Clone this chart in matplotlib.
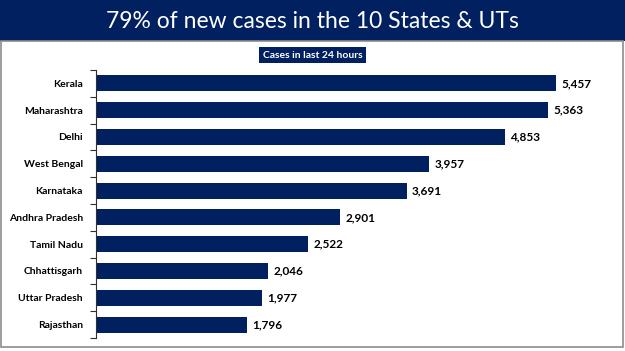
import matplotlib
matplotlib.use("Agg")
import matplotlib.pyplot as plt
from matplotlib.patches import Rectangle

# data
states = ["Kerala", "Maharashtra", "Delhi", "West Bengal", "Karnataka",
          "Andhra Pradesh", "Tamil Nadu", "Chhattisgarh", "Uttar Pradesh", "Rajasthan"]
cases = [5457, 5363, 4853, 3957, 3691, 2901, 2522, 2046, 1977, 1796]

navy = "#002060"
W, H = 625, 351

fig = plt.figure(figsize=(W / 100, H / 100), dpi=100)
fig.patch.set_facecolor("white")

# title banner
fig.patches.append(Rectangle((0, 1 - 41 / H), 1, 41 / H, transform=fig.transFigure,
                             facecolor=navy, edgecolor="none", zorder=0))
fig.text(0.5, 1 - 21 / H, "79% of new cases in the 10 States & UTs", color="white",
         fontsize=16.5, family="Lato", ha="center", va="center")

# grey frame around the chart area
fig.patches.append(Rectangle((1.5 / W, 4 / H), 621 / W, (H - 45) / H, transform=fig.transFigure,
                             facecolor="none", edgecolor="#8c8c8c", linewidth=1.2, zorder=0))

fig.text(0.5, 1 - 55 / H, "Cases in last 24 hours", color="white", fontsize=7.5,
         family="Lato", fontweight="bold", ha="center", va="center",
         bbox=dict(boxstyle="square,pad=0.35", facecolor=navy, edgecolor="none"))

ax = fig.add_axes([95.5 / W, 1 - 338 / H, 505 / W, 268 / H])
y = list(range(len(states)))
ax.barh(y, cases, height=0.6, color=navy)
ax.set_ylim(len(states) - 0.5, -0.5)
ax.set_xlim(0, 5983)

for yi, v in zip(y, cases):
    ax.text(v + 60, yi, f"{v:,}", va="center", ha="left", fontsize=8.5,
            family="Lato", fontweight="bold", color="black")

ax.set_yticks(y)
ax.set_yticklabels(states, family="Lato", fontweight="bold", fontsize=7.5)
ax.tick_params(axis="y", which="major", length=0, pad=9)
ax.set_yticks([i - 0.5 for i in range(len(states) + 1)], minor=True)
ax.tick_params(axis="y", which="minor", length=4, width=0.8, color="#303030")
ax.set_xticks([])
for s in ["top", "right", "bottom"]:
    ax.spines[s].set_visible(False)
ax.spines["left"].set_color("#303030")
ax.spines["left"].set_linewidth(0.8)

fig.savefig("out.png", dpi=100)
